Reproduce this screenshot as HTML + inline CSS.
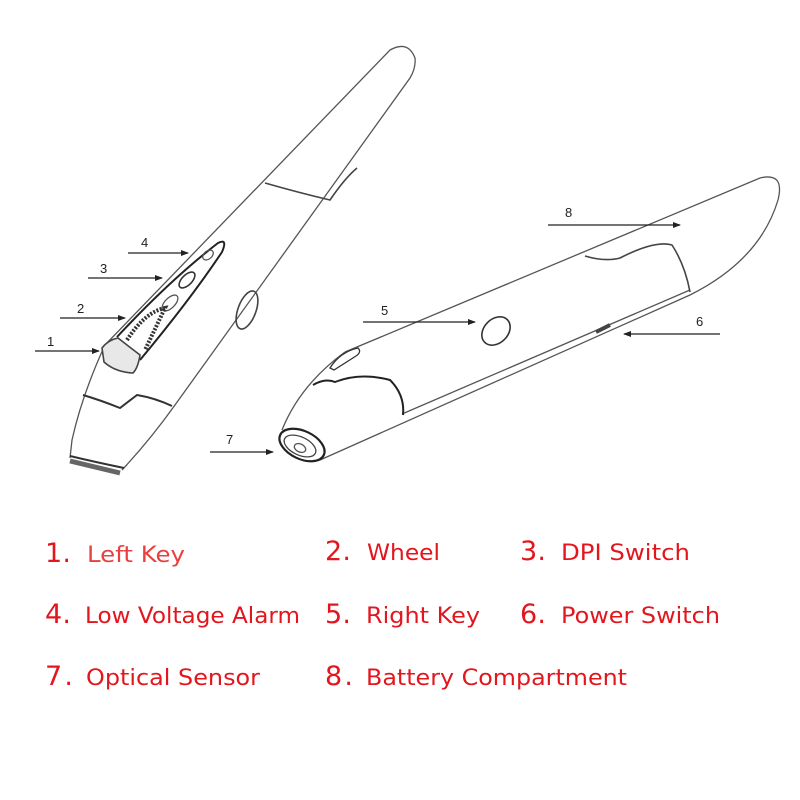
<!DOCTYPE html>
<html><head><meta charset="utf-8"><style>
html,body{margin:0;padding:0;background:#fff}
svg{display:block}
.t{font-family:"DejaVu Sans","Liberation Sans",sans-serif;fill:#e3161e}
.n{font-size:27px}
.l{font-size:22px}
.a{font-family:"Liberation Sans",sans-serif;font-size:13px;fill:#222}
</style></head><body>
<svg width="800" height="800" viewBox="0 0 800 800">
<defs><marker id="ar" markerWidth="8" markerHeight="8" refX="7" refY="4" orient="auto" markerUnits="userSpaceOnUse"><path d="M0,1 L8,4 L0,7z" fill="#222"/></marker></defs>
<g fill="none" stroke="#555" stroke-width="1.3">
<path d="M105,345 L390,50 Q408,40 415,58 Q416,68 410,78 L175,405 Q150,440 122,470"/>
<path d="M105,345 Q82,395 72,440 L70,458"/>
<path d="M70,456 Q95,462 124,468" stroke="#333" stroke-width="2"/>
<path d="M70,461 L120,473" stroke="#666" stroke-width="5"/>
<path d="M83,395 Q100,400 120,408 L137,395 Q155,398 172,406" stroke="#333" stroke-width="2"/>
<path d="M265,183 Q300,193 330,200 Q345,178 357,168" stroke="#444" stroke-width="1.6"/>
<path d="M117,337 Q170,280 218,243 Q228,238 222,252 Q190,300 140,360" stroke="#222" stroke-width="2"/>
<ellipse cx="208" cy="255" rx="6" ry="4" transform="rotate(-40 208 255)"/>
<ellipse cx="187" cy="280" rx="10" ry="5" transform="rotate(-45 187 280)" stroke="#333" stroke-width="1.6"/>
<ellipse cx="170" cy="303" rx="10" ry="5" transform="rotate(-45 170 303)"/>
<path d="M127,340 Q145,312 165,308 L145,350" stroke="#333" stroke-width="4" stroke-dasharray="2 1.5"/>
<path d="M102,348 Q108,340 118,338 L140,355 Q138,368 133,373 Q115,372 104,362 Z" fill="#e8e8e8" stroke="#444" stroke-width="1.6"/>
<ellipse cx="247" cy="310" rx="9" ry="20" transform="rotate(20 247 310)" stroke="#444" stroke-width="1.6"/>
<path d="M345,352 L760,178 Q785,172 778,200 Q760,260 690,295 L320,460"/>
<path d="M345,352 Q300,385 282,430"/>
<path d="M402,414 L690,290"/>
<ellipse cx="302" cy="445" rx="24" ry="14" transform="rotate(25 302 445)" stroke="#222" stroke-width="2.2"/>
<ellipse cx="300" cy="446" rx="17" ry="9" transform="rotate(25 300 446)" stroke="#444"/>
<ellipse cx="300" cy="448" rx="6" ry="4" transform="rotate(25 300 448)"/>
<path d="M313,385 Q325,378 335,382 Q360,372 390,380 Q405,395 403,415" stroke="#222" stroke-width="2"/>
<path d="M330,368 Q340,352 358,348 Q362,352 356,356 L334,370 Z" stroke="#333"/>
<path d="M585,256 Q605,262 620,258 Q655,240 672,245 Q685,265 690,292" stroke="#444" stroke-width="1.6"/>
<ellipse cx="496" cy="331" rx="12" ry="16" transform="rotate(45 496 331)" stroke="#333" stroke-width="1.6"/>
<path d="M596,332 L610,325" stroke="#444" stroke-width="4"/>
</g>
<g stroke="#222" stroke-width="1.3" marker-end="url(#ar)">
<line x1="35" y1="351" x2="99" y2="351"/>
<line x1="60" y1="318" x2="125" y2="318"/>
<line x1="88" y1="278" x2="162" y2="278"/>
<line x1="128" y1="253" x2="188" y2="253"/>
<line x1="363" y1="322" x2="475" y2="322"/>
<line x1="720" y1="334" x2="624" y2="334"/>
<line x1="210" y1="452" x2="273" y2="452"/>
<line x1="548" y1="225" x2="680" y2="225"/>
</g>
<text class="a" x="47" y="346">1</text>
<text class="a" x="77" y="313">2</text>
<text class="a" x="100" y="273">3</text>
<text class="a" x="141" y="247">4</text>
<text class="a" x="381" y="315">5</text>
<text class="a" x="696" y="326">6</text>
<text class="a" x="226" y="444">7</text>
<text class="a" x="565" y="217">8</text>
<g lengthAdjust="spacingAndGlyphs">
<text class="t n" x="45" y="562" textLength="26">1.</text><text class="t l" x="87" y="562" style="fill:#e84040" textLength="98" lengthAdjust="spacingAndGlyphs">Left Key</text>
<text class="t n" x="325" y="560" textLength="26">2.</text><text class="t l" x="367" y="560" textLength="73" lengthAdjust="spacingAndGlyphs">Wheel</text>
<text class="t n" x="520" y="560" textLength="26">3.</text><text class="t l" x="561" y="560" textLength="129" lengthAdjust="spacingAndGlyphs">DPI Switch</text>
<text class="t n" x="45" y="623" textLength="26">4.</text><text class="t l" x="85" y="623" textLength="215" lengthAdjust="spacingAndGlyphs">Low Voltage Alarm</text>
<text class="t n" x="325" y="623" textLength="26">5.</text><text class="t l" x="366" y="623" textLength="114" lengthAdjust="spacingAndGlyphs">Right Key</text>
<text class="t n" x="520" y="623" textLength="26">6.</text><text class="t l" x="561" y="623" textLength="159" lengthAdjust="spacingAndGlyphs">Power Switch</text>
<text class="t n" x="45" y="685" textLength="28">7.</text><text class="t l" x="86" y="685" textLength="174" lengthAdjust="spacingAndGlyphs">Optical Sensor</text>
<text class="t n" x="325" y="685" textLength="28">8.</text><text class="t l" x="366" y="685" textLength="261" lengthAdjust="spacingAndGlyphs">Battery Compartment</text>
</g>
</svg>
</body></html>
